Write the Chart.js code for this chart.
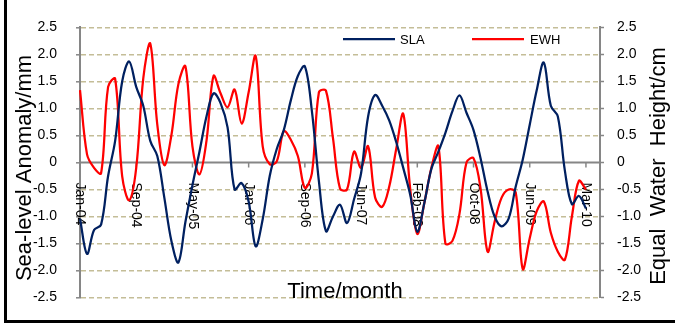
<!DOCTYPE html>
<html><head><meta charset="utf-8">
<script src="https://cdn.jsdelivr.net/npm/chart.js@4"></script>
<style>html,body{margin:0;padding:0;background:#fff}#wrap{position:relative;width:675px;height:325px}</style>
</head><body><div id="wrap"><canvas id="c" width="675" height="325"></canvas></div>
<script>
const tickLabels = ["Jan-04","Sep-04","May-05","Jan-06","Sep-06","Jun-07","Feb-08","Oct-08","Jun-09","Mar-10"];
const tickStep = 8;
const categoryCount = 75;
const slaValues = [-1.04,-1.69,-1.25,-1.15,-0.25,0.4,1.5,1.87,1.4,1.05,
  0.4,0.12,-0.65,-1.45,-1.85,-1.1,-0.42,0.2,0.85,1.28,
  1.1,0.65,-0.5,-0.38,-0.72,-1.55,-1.05,-0.25,0.25,0.6,
  1.15,1.6,1.78,0.95,-0.35,-1.27,-1.0,-0.78,-1.12,-0.68,
  -0.2,0.85,1.25,1.05,0.78,0.38,-0.1,-0.6,-1.28,-0.75,
  -0.12,0.2,0.55,0.95,1.24,0.92,0.6,0.08,-0.53,-1.0,
  -1.18,-1.04,-0.45,0.05,0.7,1.34,1.85,1.05,0.85,-0.15,
  -0.77,-0.62,-0.85];
const ewhValues = [1.34,0.15,-0.1,-0.2,1.4,1.55,-0.25,-0.7,-0.1,1.55,
  2.2,0.7,-0.05,0.5,1.45,1.78,0.3,-0.22,0.4,1.6,
  1.28,1.02,1.35,0.72,1.3,1.97,0.3,-0.03,0.02,0.58,
  0.42,0.12,-0.47,-0.2,1.3,1.33,0.45,-0.48,-0.5,0.2,
  -0.1,0.3,-0.65,-0.82,-0.45,0.25,0.9,-0.5,-1.32,-0.75,
  -0.1,0.3,-1.5,-1.45,-0.95,0.0,0.08,-0.48,-1.65,-1.1,
  -0.65,-0.5,-0.55,-1.97,-1.4,-0.9,-0.72,-1.3,-1.65,-1.8,
  -1.0,-0.34,-0.5];
const yMin = -2.5, yMax = 2.5, yStep = 0.5;
const seriesNames = ["SLA","EWH"];
const seriesColors = ["#002060","#FF0000"];
const axisTitles = {x:"Time/month", left:"Sea-level Anomaly/mm", right:"Equal  Water  Height/cm"};

const categories = Array.from({length: categoryCount}, (_, i) =>
  (i % tickStep === 0 && tickLabels[i / tickStep]) ? tickLabels[i / tickStep] : '');

const FONT = '"Liberation Sans", Arial, sans-serif';
const AXIS_GRAY = '#868686';

const custom = {
  id: 'custom',
  beforeDraw(chart) {
    const ctx = chart.ctx;
    ctx.save(); ctx.fillStyle = '#fff'; ctx.fillRect(0,0,chart.width,chart.height); ctx.restore();
  },
  beforeDatasetsDraw(chart) {
    const {ctx, chartArea, scales:{x, y}} = chart;
    const y0 = y.getPixelForValue(0);
    ctx.save();
    ctx.strokeStyle = AXIS_GRAY; ctx.lineWidth = 2;
    ctx.beginPath(); ctx.moveTo(chartArea.left, y0); ctx.lineTo(chartArea.right, y0); ctx.stroke();
    ctx.lineWidth = 1.5;
    categories.forEach((lab, i) => {
      if (!lab) return;
      const px = x.getPixelForValue(i);
      ctx.beginPath(); ctx.moveTo(px, y0); ctx.lineTo(px, y0 + 5); ctx.stroke();
    });
    ctx.fillStyle = '#000'; ctx.font = '14px ' + FONT;
    ctx.textAlign = 'left'; ctx.textBaseline = 'middle';
    categories.forEach((lab, i) => {
      if (!lab) return;
      const px = x.getPixelForValue(i);
      ctx.save(); ctx.translate(px, y0 + 20); ctx.rotate(Math.PI / 2); ctx.fillText(lab, 0, 0); ctx.restore();
    });
    ctx.restore();
  },
  afterDraw(chart) {
    const {ctx} = chart;
    ctx.save();
    ctx.fillStyle = '#000';
    ctx.font = '22px ' + FONT;
    ctx.textAlign = 'center'; ctx.textBaseline = 'middle';
    ctx.fillText(axisTitles.x, 345, 292);
    ctx.save(); ctx.translate(25, 168); ctx.rotate(-Math.PI / 2); ctx.fillText(axisTitles.left, 0, 0); ctx.restore();
    ctx.save(); ctx.translate(659, 166); ctx.rotate(-Math.PI / 2); ctx.fillText(axisTitles.right, 0, 0); ctx.restore();
    // legend
    const items = [{x0:343, x1:395, tx:400}, {x0:472, x1:524, tx:530}];
    ctx.font = '13px ' + FONT; ctx.textAlign = 'left'; ctx.textBaseline = 'middle';
    items.forEach((it, k) => {
      ctx.strokeStyle = seriesColors[k]; ctx.lineWidth = 2.25;
      ctx.beginPath(); ctx.moveTo(it.x0, 39); ctx.lineTo(it.x1, 39); ctx.stroke();
      ctx.fillStyle = '#000'; ctx.fillText(seriesNames[k], it.tx, 40);
    });
    // frame
    ctx.fillStyle = '#000';
    ctx.fillRect(4, 0, 3, 323);
    ctx.fillRect(4, 320, 671, 3);
    ctx.restore();
  }
};

new Chart(document.getElementById('c'), {
  type: 'line',
  data: {
    labels: categories,
    datasets: [
      {label: seriesNames[0], data: slaValues, borderColor: seriesColors[0], borderWidth: 2.25, pointRadius: 0, tension: 0.35, fill: false, yAxisID: 'y'},
      {label: seriesNames[1], data: ewhValues, borderColor: seriesColors[1], borderWidth: 2.25, pointRadius: 0, tension: 0.35, fill: false, yAxisID: 'y'}
    ]
  },
  options: {
    responsive: false, animation: false, devicePixelRatio: 1,
    layout: {padding: {left: 0, right: 0, top: 21, bottom: 20}},
    plugins: {legend: {display: false}, tooltip: {enabled: false}},
    scales: {
      x: {type: 'category', display: false, offset: false},
      y: {
        position: 'left', min: yMin, max: yMax,
        ticks: {stepSize: yStep, color: '#000', font: {family: FONT, size: 14}, padding: 19},
        grid: {color: c => (c.tick && c.tick.value === 0) ? 'rgba(0,0,0,0)' : '#C4BD97', lineWidth: 1.6, tickLength: 4, tickColor: AXIS_GRAY, tickWidth: 1.5},
        border: {display: true, color: AXIS_GRAY, width: 2, dash: [5, 3]},
        afterFit(s) { s.width = 80; }
      },
      y1: {
        position: 'right', min: yMin, max: yMax,
        ticks: {stepSize: yStep, color: '#000', font: {family: FONT, size: 14}, padding: 13},
        grid: {drawOnChartArea: false, tickLength: 4, color: AXIS_GRAY, tickColor: AXIS_GRAY, tickWidth: 1.5},
        border: {display: true, color: AXIS_GRAY, width: 2},
        afterFit(s) { s.width = 75; }
      }
    }
  },
  plugins: [custom]
});
</script>
</body></html>
